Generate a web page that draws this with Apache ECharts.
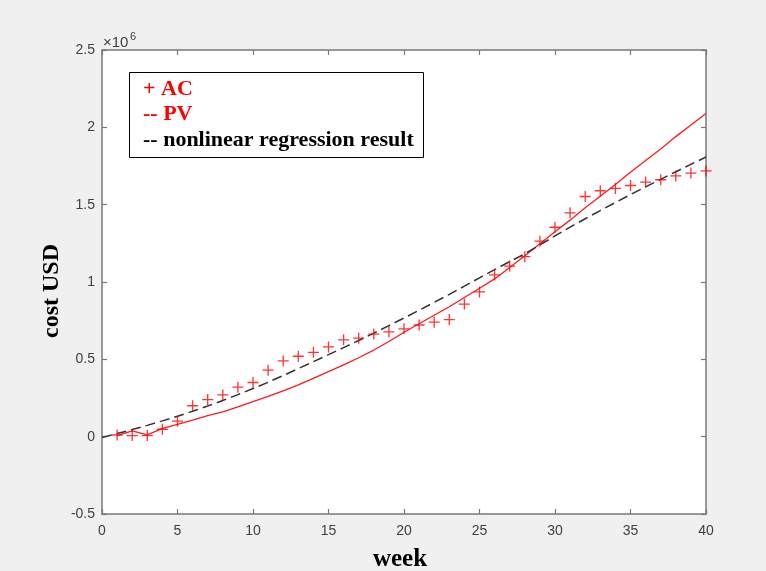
<!DOCTYPE html>
<html>
<head>
<meta charset="utf-8">
<script src="https://cdn.jsdelivr.net/npm/echarts@6/dist/echarts.min.js"></script>
<style>
html,body{margin:0;padding:0;background:#f0f0f0;}
#chart{width:766px;height:571px;}
</style>
</head>
<body>
<div id="chart"></div>
<script>
// ---- data (cost in USD) ----
var acWeeks = [1,2,3,4,5,6,7,8,9,10,11,12,13,14,15,16,17,18,19,20,21,22,23,24,25,26,27,28,29,30,31,32,33,34,35,36,37,38,39,40];
var acValues = [11000,7000,7000,48000,100000,200000,240000,270000,320000,350000,430000,490000,520000,545000,580000,626000,637000,663000,678000,697000,722000,740000,757000,857000,936000,1046000,1103000,1164000,1264000,1354000,1447000,1553000,1590000,1605000,1624000,1646000,1661000,1686000,1704000,1718000];

var pvWeeks = [1,2,3,4,5,6,7,8,9,10,11,12,13,14,15,16,17,18,19,20,21,22,23,24,25,26,27,28,29,30,31,32,33,34,35,36,37,38,39,40];
var pvValues = [7000,37000,11000,54000,80000,107000,136000,161000,193000,226000,260000,296000,335000,377000,420000,464000,510000,560000,615000,675000,730000,785000,840000,900000,960000,1020000,1094000,1170000,1248000,1325000,1400000,1480000,1555000,1630000,1710000,1785000,1860000,1940000,2015000,2090000];

var regWeeks = [0,1,2,3,4,5,6,7,8,9,10,11,12,13,14,15,16,17,18,19,20,21,22,23,24,25,26,27,28,29,30,31,32,33,34,35,36,37,38,39,40];
var regValues = [-5000,20000,46000,73000,102000,132000,164000,198000,234000,272000,311000,352000,395000,440000,485000,530000,576000,622000,669000,718000,767000,817000,868000,920000,973000,1027000,1080000,1132000,1182000,1240000,1298000,1355000,1409000,1462000,1514000,1565000,1615000,1664000,1713000,1761000,1808000];

var xTicks = {min: 0, max: 40, interval: 5};
var yTicks = {min: -500000, max: 2500000, interval: 500000};

var legendLines = ['+ AC', '-- PV', '-- nonlinear regression result'];
var xTitle = 'week';
var yTitle = 'cost USD';

function pairs(xs, ys) { return xs.map(function (x, i) { return [x, ys[i]]; }); }

var axisColor = '#787878';
var labelColor = '#404040';
var plusPath = 'path://M44,0H56V44H100V56H56V100H44V56H0V44H44Z';

function xAxisDef(pos, showLabel) {
  return {
    type: 'value', position: pos, min: xTicks.min, max: xTicks.max, interval: xTicks.interval,
    axisLine: {show: true, onZero: false, lineStyle: {color: axisColor, width: 1.5}},
    axisTick: {show: true, inside: true, length: 5, lineStyle: {color: axisColor, width: 1.2}},
    axisLabel: {show: showLabel, fontSize: 14, color: labelColor, fontFamily: 'Liberation Sans', margin: 10},
    splitLine: {show: false}
  };
}
function yAxisDef(pos, showLabel) {
  return {
    type: 'value', position: pos, min: yTicks.min, max: yTicks.max, interval: yTicks.interval,
    axisLine: {show: true, onZero: false, lineStyle: {color: axisColor, width: 1.5}},
    axisTick: {show: true, inside: true, length: 5, lineStyle: {color: axisColor, width: 1.2}},
    axisLabel: {show: showLabel, fontSize: 14, color: labelColor, fontFamily: 'Liberation Sans', margin: 7,
      formatter: function (v) { return String(v / 1e6); }},
    splitLine: {show: false}
  };
}

var chart = echarts.init(document.getElementById('chart'), null, {renderer: 'canvas'});
chart.setOption({
  animation: false,
  backgroundColor: '#f0f0f0',
  grid: {left: 102, top: 50, right: 60, bottom: 57, show: true, backgroundColor: '#ffffff', borderWidth: 0},
  xAxis: [xAxisDef('bottom', true), xAxisDef('top', false)],
  yAxis: [yAxisDef('left', true), yAxisDef('right', false)],
  series: [
    {
      name: 'PV', type: 'line', xAxisIndex: 0, yAxisIndex: 0,
      data: pairs(pvWeeks, pvValues), showSymbol: false, smooth: false,
      lineStyle: {color: '#ff1a1a', width: 1.3}, z: 2
    },
    {
      name: 'nonlinear regression result', type: 'line', xAxisIndex: 0, yAxisIndex: 0,
      data: pairs(regWeeks, regValues), showSymbol: false, smooth: false,
      lineStyle: {color: '#333333', width: 1.5, type: [10, 5]}, z: 3
    },
    {
      name: 'AC', type: 'scatter', xAxisIndex: 0, yAxisIndex: 0,
      data: pairs(acWeeks, acValues), symbol: plusPath, symbolSize: 11,
      itemStyle: {color: '#ff0000'}, z: 4
    }
  ],
  graphic: [
    {type: 'text', x: 103, y: 43, style: {text: '\u00d710', fontSize: 15, fontFamily: 'Liberation Sans', fill: labelColor, align: 'left', verticalAlign: 'middle'}},
    {type: 'text', x: 130, y: 37, style: {text: '6', fontSize: 11, fontFamily: 'Liberation Sans', fill: labelColor, align: 'left', verticalAlign: 'middle'}},
    {type: 'rect', shape: {x: 129.5, y: 72.5, width: 294, height: 85}, style: {fill: '#ffffff', stroke: '#000000', lineWidth: 1}, z: 10},
    {type: 'text', x: 143, y: 89, z: 11, style: {text: legendLines[0], fontSize: 22, fontWeight: 'bold', fontFamily: 'Liberation Serif', fill: '#ff0000', align: 'left', verticalAlign: 'middle'}},
    {type: 'text', x: 143, y: 114, z: 11, style: {text: legendLines[1], fontSize: 22, fontWeight: 'bold', fontFamily: 'Liberation Serif', fill: '#ff0000', align: 'left', verticalAlign: 'middle'}},
    {type: 'text', x: 143, y: 140, z: 11, style: {text: legendLines[2], fontSize: 22, fontWeight: 'bold', fontFamily: 'Liberation Serif', fill: '#000000', align: 'left', verticalAlign: 'middle'}},
    {type: 'text', x: 400, y: 560, style: {text: xTitle, fontSize: 25, fontWeight: 'bold', fontFamily: 'Liberation Serif', fill: '#000000', align: 'center', verticalAlign: 'middle'}},
    {type: 'text', x: 52, y: 291, rotation: Math.PI / 2, style: {text: yTitle, fontSize: 24, fontWeight: 'bold', fontFamily: 'Liberation Serif', fill: '#000000', align: 'center', verticalAlign: 'middle'}}
  ]
});
</script>
</body>
</html>
